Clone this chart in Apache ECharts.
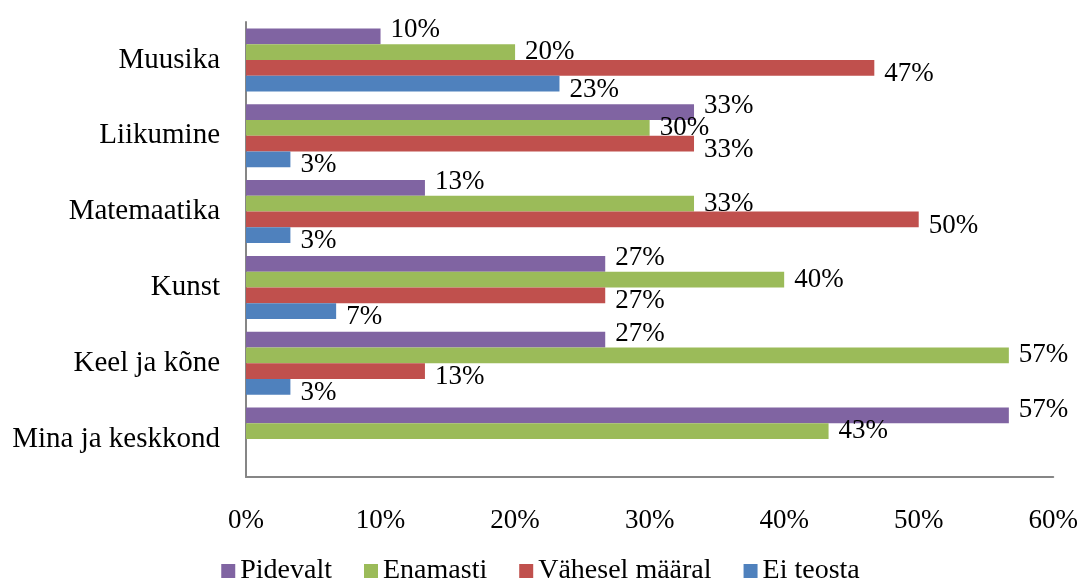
<!DOCTYPE html>
<html>
<head>
<meta charset="utf-8">
<script src="https://cdn.jsdelivr.net/npm/echarts@6/dist/echarts.min.js"></script>
<style>
  html, body { margin: 0; padding: 0; background: #fff; }
  #main { width: 1081px; height: 580px; }
</style>
</head>
<body>
<div id="main"></div>
<script>
// categories bottom to top
var categories = ['Mina ja keskkond', 'Keel ja kõne', 'Kunst', 'Matemaatika', 'Liikumine', 'Muusika'];
var pidevalt = [56.7, 26.7, 26.7, 13.3, 33.3, 10];
var enamasti = [43.3, 56.7, 40, 33.3, 30, 20];
var vahesel = [0, 13.3, 26.7, 50, 33.3, 46.7];
var eiTeosta = [0, 3.3, 6.7, 3.3, 3.3, 23.3];
var xTicks = [0, 10, 20, 30, 40, 50, 60];

var font = 'Liberation Serif';

function makeSeries(name, data, color, dy) {
  return {
    name: name,
    type: 'bar',
    data: data,
    barGap: 0,
    barCategoryGap: '17%',
    itemStyle: { color: color },
    label: {
      show: true,
      position: 'right',
      distance: 10,
      offset: [0, dy],
      color: '#000',
      fontFamily: font,
      fontSize: 27,
      formatter: function (p) {
        return p.value ? Math.round(p.value) + '%' : '';
      }
    }
  };
}

var chart = echarts.init(document.getElementById('main'));
chart.setOption({
  animation: false,
  textStyle: { fontFamily: font },
  grid: { left: 246, right: 27, top: 22, bottom: 103, containLabel: false },
  legend: {
    bottom: -10,
    left: 'center',
    data: ['Pidevalt', 'Enamasti', 'Vähesel määral', 'Ei teosta'],
    icon: 'rect',
    itemWidth: 14,
    itemHeight: 14,
    itemGap: 32,
    textStyle: { fontFamily: font, fontSize: 28, color: '#000' }
  },
  xAxis: {
    type: 'value',
    min: xTicks[0],
    max: xTicks[xTicks.length - 1],
    interval: 10,
    axisLine: { show: true, lineStyle: { color: '#868686', width: 2 } },
    axisTick: { show: false },
    splitLine: { show: false },
    axisLabel: {
      margin: 30,
      color: '#000',
      fontFamily: font,
      fontSize: 27,
      formatter: '{value}%'
    }
  },
  yAxis: {
    type: 'category',
    data: categories,
    axisLine: { show: true, lineStyle: { color: '#868686', width: 2 } },
    axisTick: { show: false },
    axisLabel: {
      margin: 26,
      color: '#000',
      fontFamily: font,
      fontSize: 29
    }
  },
  series: [
    makeSeries('Pidevalt', pidevalt, '#8064A2', -6),
    makeSeries('Enamasti', enamasti, '#9BBB59', 0),
    makeSeries('Vähesel määral', vahesel, '#C0504D', 6),
    makeSeries('Ei teosta', eiTeosta, '#4F81BD', 6)
  ]
});
</script>
</body>
</html>
